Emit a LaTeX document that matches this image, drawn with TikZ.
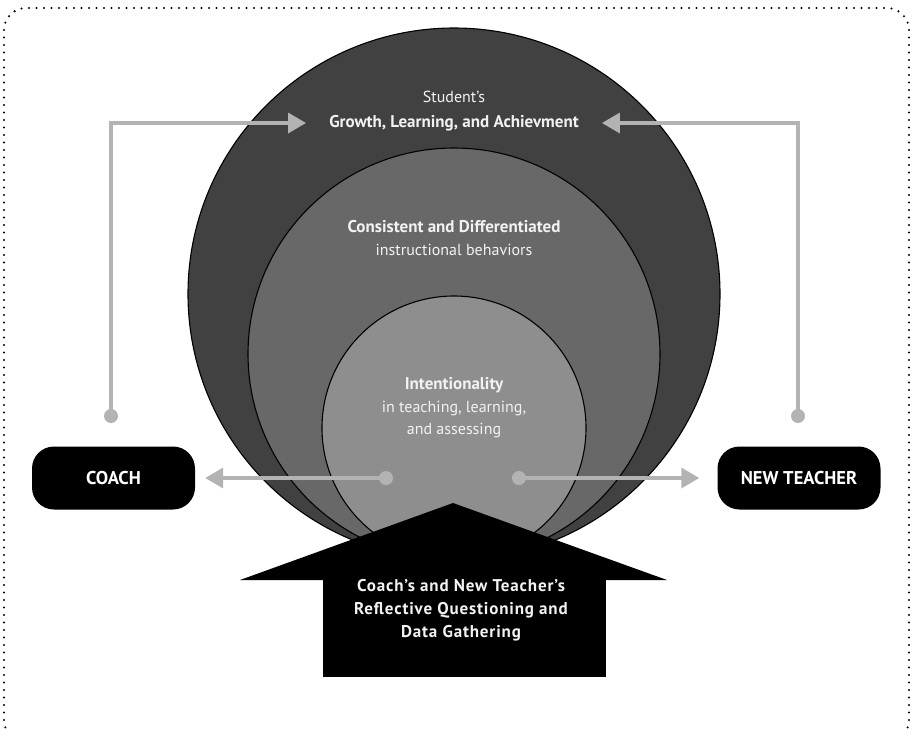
\documentclass[tikz,border=0pt]{standalone}
\usepackage{fontspec}
\setmainfont{PT Sans}
\usepackage{xcolor}
\definecolor{ringouter}{HTML}{414141}
\definecolor{ringmid}{HTML}{686868}
\definecolor{ringinner}{HTML}{8E8E8E}
\definecolor{linkgray}{HTML}{B3B3B3}
\definecolor{softwhite}{HTML}{F2F2F2}
\usetikzlibrary{arrows.meta, positioning}
\newcommand\ringhead[1]{{\fontsize{17}{20}\selectfont\bfseries #1}}

\begin{document}
\begin{tikzpicture}[x=1pt, y=-1pt,
  ring/.style={circle, draw=black, line width=1.1pt, inner sep=0pt},
  ringtext/.style={text=softwhite, align=center, inner sep=0pt,
    font=\fontsize{16}{22.5}\selectfont},
  role/.style={rectangle, rounded corners=22pt, fill=black, text=white,
    minimum width=163pt, minimum height=63pt,
    font=\fontsize{18.5}{20}\selectfont\bfseries},
  dot/.style={circle, fill=linkgray, inner sep=0pt, minimum size=14pt},
  link/.style={-{Triangle[length=18pt, width=20pt]}, line width=3.5pt, linkgray}
]
\useasboundingbox (0,0) rectangle (911,729);
% dotted frame
\draw[line width=2.3pt, line cap=round, dash pattern=on 0pt off 7.5pt,
  rounded corners=22pt] (4,8) rectangle (909,742);

% nested rings, touching at the bottom
\node[ring, fill=ringouter, minimum size=532pt] (outer) at (454,294) {};
\node[ring, fill=ringmid, minimum size=412pt] (middle) at (454,354) {};
\node[ring, fill=ringinner, minimum size=264pt] (inner) at (454,428) {};

\node[ringtext] (student) at (454,97) {Student's};
\node[ringtext] (growth) at (454,123) {\ringhead{Growth, Learning, and Achievment}};
\node[ringtext] (consistent) at (454,238)
  {\ringhead{Consistent and Differentiated}\\instructional behaviors};
\node[ringtext] (intent) at (454,408)
  {\ringhead{Intentionality}\\in teaching, learning,\\and assessing};

% big arrow from below
\node[fill=black, minimum width=283pt, minimum height=97pt, inner sep=0pt]
  (shaft) at (464.5,628.5) {};
\fill[black] (240,580) -- (453,503) -- (667,580) -- cycle;
\node[text=softwhite, align=center, inner sep=0pt,
  font=\fontsize{17}{23}\selectfont\bfseries\addfontfeatures{LetterSpace=5}]
  (reflect) at (461,610)
  {Coach's and New Teacher's\\Reflective Questioning and\\Data Gathering};

% the two roles
\node[role] (coach) at (113.5,478) {COACH};
\node[role] (newteacher) at (799,478) {NEW TEACHER};

\node[dot] (dotTL) at (111,416) {};
\node[dot] (dotTR) at (798,416) {};
\node[dot] (dotCL) at (386,478) {};
\node[dot] (dotCR) at (519,478) {};

\draw[link, shorten >=23pt] (dotTL.center) |- (growth.west);
\draw[link, shorten >=23pt] (dotTR.center) |- (growth.east);
\draw[link, shorten >=10pt] (dotCL.center) -- (coach.east);
\draw[link, shorten >=18pt] (dotCR.center) -- (newteacher.west);
\end{tikzpicture}
\end{document}
